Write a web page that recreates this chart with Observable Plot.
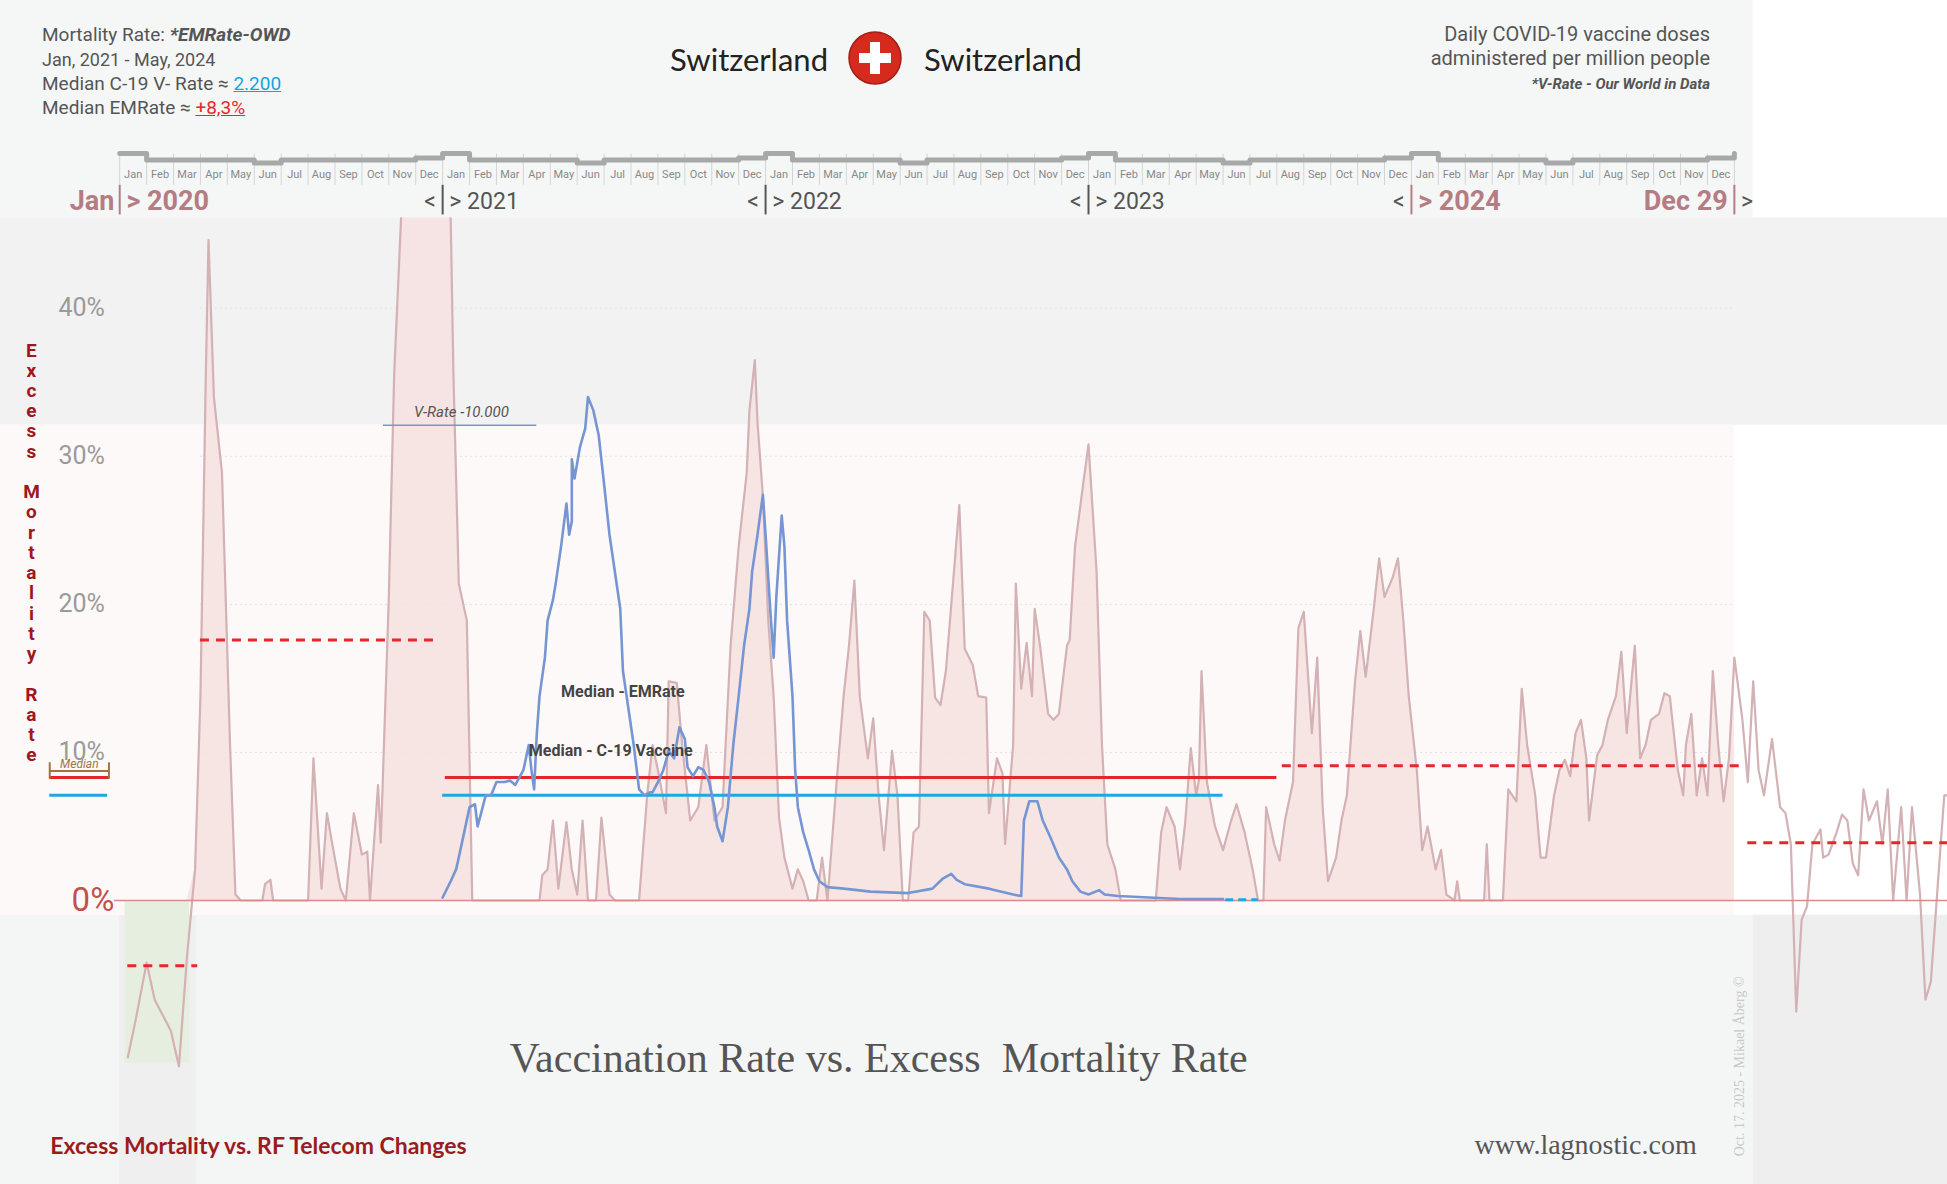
<!DOCTYPE html>
<html><head><meta charset="utf-8">
<script src="https://cdn.jsdelivr.net/npm/d3@7"></script>
<script src="https://cdn.jsdelivr.net/npm/@observablehq/plot@0.6"></script>
<style>
body{margin:0;background:#fff;font-family:"Liberation Sans Narrow","Roboto",sans-serif;}
#wrap{position:relative;width:1947px;height:1184px;overflow:hidden}
.t{position:absolute;white-space:nowrap;line-height:1;color:#555}
</style></head><body><div id="wrap"></div>
<script>
// months since Jan 2020, excess mortality %
const emMonth=[0.3,0.6,1.0,1.3,1.9,2.2,2.5,2.8,3.0,3.2,3.3,3.5,3.8,4.1,4.3,4.5,5.3,5.4,5.6,5.7,7.0,7.2,7.5,7.7,7.9,8.2,8.4,8.7,9.0,9.2,9.3,9.6,9.7,10.0,10.2,10.6,11.0,11.7,12.3,12.4,12.6,12.9,13.1,15.6,15.7,15.9,16.1,16.3,16.6,16.8,17.0,17.2,17.4,17.7,17.9,18.2,18.4,19.3,19.6,19.8,20.0,20.3,20.4,20.7,20.9,21.1,21.2,21.5,21.8,22.1,22.4,22.7,23.0,23.3,23.4,23.6,23.7,23.9,24.1,24.3,24.5,24.7,25.0,25.2,25.4,25.6,25.9,26.1,26.3,26.6,26.9,27.1,27.3,27.5,27.8,28.0,28.2,28.4,28.7,28.9,29.1,29.3,29.5,29.7,29.9,30.1,30.3,30.5,30.7,31.0,31.2,31.4,31.7,31.9,32.2,32.3,32.6,32.8,32.9,33.2,33.3,33.5,33.7,33.9,34.0,34.2,34.5,34.7,34.9,35.2,35.3,35.5,35.8,36.0,36.3,36.5,36.7,37.0,37.2,38.5,38.7,38.9,39.2,39.4,39.6,39.8,40.0,40.1,40.2,40.4,40.7,41.0,41.3,41.5,41.8,42.1,42.3,42.5,42.6,42.9,43.1,43.3,43.6,43.8,44.0,44.3,44.5,44.7,44.9,45.2,45.4,45.6,45.9,46.1,46.3,46.6,46.8,47.0,47.3,47.5,47.7,47.9,48.2,48.4,48.6,48.9,49.1,49.3,49.6,49.7,49.8,50.7,50.8,50.9,51.4,51.6,51.9,52.1,52.3,52.6,52.8,53.0,53.3,53.5,53.7,53.9,54.1,54.3,54.5,54.6,54.9,55.1,55.3,55.6,55.8,56.0,56.3,56.5,56.7,56.9,57.2,57.4,57.6,57.9,58.1,58.2,58.4,58.6,58.8,59.0,59.2,59.4,59.6,59.8,60.0,60.3,60.5,60.7,60.9,61.1,61.4,61.7,61.9,62.1,62.3,62.5,62.7,62.9,63.2,63.3,63.5,63.8,64.0,64.2,64.4,64.6,64.8,65.0,65.3,65.5,65.7,65.9,66.2,66.4,66.6,66.9,67.1,67.3,67.6,67.8,67.9];
const emValue=[-10.6,-8.0,-4.2,-6.7,-8.8,-11.2,-3.8,2.1,13.8,35.6,44.6,34.0,28.9,10.5,0.4,0,0,1.1,1.4,0,0,9.6,0.8,5.9,3.8,0.8,0,5.9,3.1,3.3,0,7.8,3.9,20.5,35.6,52,60,56,46,35.6,21.4,18.9,0,0,1.7,2.1,5.4,0.8,5.3,2.1,0.4,5.4,0,0,5.6,0.4,0,0,7.1,10.5,8.8,5.9,14.8,14.7,10.5,7.1,5.4,6.3,10.5,5.4,6.3,17.2,23.9,28.9,33.1,36.5,32.3,27.3,18.9,13.8,5.6,2.9,0.8,2.1,1.3,0,0,2.9,0,7.1,13.8,17.2,21.6,13.8,9.6,12.3,7.1,3.4,10.1,7.1,0,0,4.6,5.0,19.5,18.9,13.7,13.2,15.5,22.2,26.7,17.0,15.9,13.8,13.7,5.9,9.6,8.6,3.8,10.5,21.4,14.3,17.4,13.8,19.7,17.2,12.6,12.2,12.6,17.2,17.6,23.9,28.1,30.8,22.2,10.5,3.8,2.1,0,0,4.6,6.3,5.0,2.1,5.4,10.3,7.1,8.1,15.5,8.0,5.0,3.4,5.4,6.5,4.6,2.1,0,0,6.3,3.8,2.7,5.4,8.0,18.4,19.5,11.3,16.4,6.3,1.3,2.9,5.4,7.1,14.7,18.2,15.1,19.7,23.1,20.5,21.8,23.1,18.9,13.8,8.8,3.4,5.0,2.1,3.4,0.4,0,1.3,0,0,3.8,0,0,7.5,6.7,14.3,10.5,7.1,2.9,2.9,7.1,8.8,9.5,8.4,11.3,12.2,9.6,5.4,9.8,10.5,12.2,13.8,16.8,11.3,17.2,9.6,10.5,12.2,12.6,14.0,13.8,8.8,7.1,10.5,12.6,7.1,9.6,7.1,15.5,10.5,6.7,9.6,16.4,12.2,8.0,14.8,8.8,7.1,10.9,6.3,5.9,3.8,-7.5,-1.3,-0.4,3.8,4.8,2.9,3.1,4.6,5.8,5.4,2.5,1.7,7.5,5.4,6.7,3.8,7.5,0,6.3,0,6.3,0.4,-6.7,-5.5,2.1,7.1,7.1];
// vaccine doses per million / 10.000 shown on the same % axis
const vxMonth=[12.0,12.3,12.5,12.6,12.8,13.0,13.2,13.3,13.6,13.8,14.0,14.3,14.5,14.7,15.0,15.2,15.3,15.4,15.5,15.6,15.8,15.9,16.1,16.2,16.4,16.6,16.7,16.8,16.8,16.9,17.1,17.3,17.4,17.6,17.8,18.0,18.2,18.4,18.6,18.7,18.9,19.1,19.3,19.5,19.7,19.8,20.0,20.2,20.4,20.6,20.8,21.0,21.1,21.3,21.5,21.7,21.9,22.1,22.2,22.4,22.6,22.8,23.0,23.2,23.4,23.5,23.7,23.9,24.0,24.2,24.3,24.4,24.6,24.7,24.8,25.0,25.1,25.2,25.4,25.6,25.8,26.0,26.3,26.9,27.9,29.3,30.2,30.6,30.9,31.1,31.4,32.3,33.2,33.5,33.6,33.8,34.1,34.3,34.6,34.9,35.2,35.4,35.7,36.0,36.4,36.6,37.1,39.4,41.0];
const vxValue=[0.2,1.3,2.1,2.9,4.6,6.3,6.5,5.0,7.1,7.1,8.0,8.0,8.1,7.8,8.8,10.5,8.8,7.5,11.3,13.8,16.4,18.9,20.3,21.4,23.9,26.8,24.7,25.6,29.8,28.5,30.6,31.9,34.0,33.1,31.4,28.1,24.7,22.2,19.7,15.5,13.0,10.5,7.5,7.1,7.3,7.3,8.0,8.8,10.1,9.6,11.7,10.9,9.0,8.4,9.0,8.8,8.0,6.3,5.0,4.0,6.3,10.5,13.8,17.2,19.7,22.2,24.7,27.4,24.7,18.9,16.4,20.5,26.0,23.9,18.9,13.8,8.8,6.3,4.6,3.4,2.1,1.3,0.9,0.8,0.6,0.5,0.8,1.5,1.8,1.4,1.1,0.8,0.4,0.3,5.4,6.7,6.7,5.4,4.2,2.9,2.1,1.3,0.6,0.4,0.7,0.4,0.3,0.1,0.1];
const yTicks=[10,20,30,40];
const monthNames=["Jan","Feb","Mar","Apr","May","Jun","Jul","Aug","Sep","Oct","Nov","Dec"];
const years=[2020,2021,2022,2023,2024];
const boldYears=[2020,2024];
const plainYears=[2021,2022,2023];
const medEMRate=8.3, medVRate=2.2;
const medEM2020=17.6, medEMneg2020=-4.4, medEM2324=9.1, medEM2024=3.9;
const medVrateDisplay=7.1;

const em=emMonth.map((m,i)=>({m,v:emValue[i]}));
const vx=vxMonth.map((m,i)=>({m,v:vxValue[i]}));
const emFill=em.filter(d=>d.m>=2.5&&d.m<=60.0);
const months=d3.range(60).map(i=>({m:i+0.5,label:monthNames[i%12]}));
const seps=d3.range(61);
const rulerPattern=[50.15,50.0,50.0,50.0,50.0,49.8,50.0,50.0,50.0,50.0,50.0,50.15];
const ruler=[];d3.range(60).forEach(i=>{ruler.push({m:i,y:i%12==0?50.45:rulerPattern[i%12]});});ruler.push({m:60,y:50.45});
const letters="Excess Mortality Rate".split("");
const letterData=letters.map((c,i)=>({c,i})).filter(d=>d.c!==" ");

const F='"Liberation Sans Narrow",Roboto,sans-serif';
const pink="#b57c83";
const rect=(x1,x2,y1,y2,fill)=>Plot.rect([{x1,x2,y1,y2}],{x1:"x1",x2:"x2",y1:"y1",y2:"y2",fill});
const hline=(v,x1,x2,opts)=>Plot.ruleY([v],{x1,x2,...opts});

const chart=Plot.plot({
 width:1947,height:1184,margin:0,
 x:{domain:[-4.43,67.92],axis:null},
 y:{domain:[-19.18,60.78],axis:null},
 style:{fontFamily:F,background:"transparent"},
 marks:[
  rect(-4.43,67.92,-19.18,-1.0,"#f4f6f5"),
  rect(60.7,67.92,-19.18,-1.0,"#eeeeee"),
  rect(0,2.86,-19.18,-1.0,"#efefef"),
  rect(-4.43,67.92,32.1,46.1,"#f2f2f2"),
  rect(-4.43,60.0,-1.0,32.1,"#fdf9f9"),
  rect(0.2,2.6,-11,0,"#e6efdf"),
  Plot.ruleY(yTicks,{x1:3,x2:60,stroke:"#e4e0e0",strokeDasharray:"2,3"}),
  Plot.areaY(emFill,{x:"m",y1:0,y2:d=>Math.max(0,d.v),fill:"#f6e2e0",fillOpacity:0.85}),
  Plot.line(em,{x:"m",y:"v",stroke:"#d3b1b5",strokeWidth:2.2}),
  hline(0,-0.2,67.92,{stroke:"#d98a8a",strokeWidth:1.5}),
  hline(medEM2020,3.0,11.9,{stroke:"#e8262b",strokeWidth:3,strokeDasharray:"9,7"}),
  hline(medEMneg2020,0.3,2.9,{stroke:"#e8262b",strokeWidth:3,strokeDasharray:"9,7"}),
  hline(medEM2324,43.2,60.3,{stroke:"#e8262b",strokeWidth:3,strokeDasharray:"9,7"}),
  hline(medEM2024,60.5,67.92,{stroke:"#e8262b",strokeWidth:3,strokeDasharray:"9,7"}),
  hline(medEMRate,12.1,43.0,{stroke:"#e3262b",strokeWidth:3}),
  hline(medVrateDisplay,12.0,41.0,{stroke:"#1ca9e2",strokeWidth:3}),
  Plot.line(vx,{x:"m",y:"v",stroke:"#7596d2",strokeWidth:2.6}),
  hline(0.05,41.1,42.3,{stroke:"#1ca9e2",strokeWidth:3,strokeDasharray:"8,5"}),
  // legend
  hline(medEMRate,-2.6,-0.37,{stroke:"#e3262b",strokeWidth:3}),
  hline(medVrateDisplay,-2.6,-0.45,{stroke:"#1ca9e2",strokeWidth:3}),
  hline(8.75,-2.6,-0.4,{stroke:"#a07440",strokeWidth:2}),
  Plot.ruleX([-2.6,-0.4],{y1:8.2,y2:9.3,stroke:"#a07440",strokeWidth:2}),
  Plot.text(["Median"],{x:-1.5,y:9.2,fill:"#a07440",fontSize:12,fontStyle:"italic"}),
  // V-rate marker
  hline(32.1,9.8,15.5,{stroke:"#7596d2",strokeWidth:1.6}),
  Plot.text(["V-Rate -10.000"],{x:12.7,y:32.95,fill:"#555",fontSize:15,fontStyle:"italic"}),
  Plot.text(["Median - EMRate"],{x:16.4,y:14.1,textAnchor:"start",fill:"#444",fontSize:16,fontWeight:"bold"}),
  Plot.text(["Median - C-19 Vaccine"],{x:15.2,y:10.1,textAnchor:"start",fill:"#444",fontSize:16,fontWeight:"bold"}),
  // y labels
  Plot.text(yTicks,{x:-0.55,y:d=>d,text:d=>d+"%",textAnchor:"end",fill:"#9a9a9a",fontSize:25}),
  Plot.text([0],{x:-0.2,y:0,text:d=>d+"%",textAnchor:"end",fill:"#c4504b",fontSize:33}),
  Plot.text(letterData,{x:-3.28,y:d=>(725-(282+d.i*16.3))/11.925,text:"c",fill:"#a0161c",fontSize:19,fontWeight:"bold"}),
  // header background (covers clipped peak)
  rect(-4.43,60.7,46.1,60.78,"#f5f7f6"),
  Plot.ruleX(seps,{y1:48.3,y2:50.4,stroke:"#d4d4d4",strokeWidth:1}),
  Plot.line(ruler,{x:"m",y:"y",curve:"step-after",stroke:"#a8a8a8",strokeWidth:5}),
  Plot.text(months,{x:"m",y:49.0,text:"label",fill:"#888",fontSize:11}),
  Plot.ruleX(years.concat([2025]),{x:d=>(d-2020)*12,y1:46.3,y2:48.3,stroke:d=>(d==2020||d>=2024)?pink:"#555",strokeWidth:2}),
  Plot.text(["Jan"],{x:-0.2,y:47.2,textAnchor:"end",fill:pink,fontSize:27,fontWeight:"bold"}),
  Plot.text(boldYears,{x:d=>(d-2020)*12+0.25,y:47.2,text:d=>"> "+d,textAnchor:"start",fill:pink,fontSize:27,fontWeight:"bold"}),
  Plot.text(plainYears,{x:d=>(d-2020)*12+0.25,y:47.2,text:d=>"> "+d,textAnchor:"start",fill:"#555",fontSize:23}),
  Plot.text(years.slice(1),{x:d=>(d-2020)*12-0.25,y:47.2,text:d=>"<",textAnchor:"end",fill:"#555",fontSize:23}),
  Plot.text(["Dec 29"],{x:59.75,y:47.2,textAnchor:"end",fill:pink,fontSize:27,fontWeight:"bold"}),
  Plot.text([">"],{x:60.25,y:47.2,textAnchor:"start",fill:"#555",fontSize:23}),
  // bottom texts
  Plot.text(["Vaccination Rate vs. Excess  Mortality Rate"],{x:28.2,y:-10.7,fill:"#555",fontSize:42,fontFamily:"Liberation Serif, serif"}),
  Plot.text(["Excess Mortality vs. RF Telecom Changes"],{x:-2.58,y:-16.6,textAnchor:"start",fill:"#9b1b1f",fontSize:23,fontWeight:"bold",fontFamily:"Lato, sans-serif"}),
  Plot.text(["www.lagnostic.com"],{x:58.6,y:-16.5,textAnchor:"end",fill:"#555",fontSize:28,fontFamily:"Liberation Serif, serif"}),
  Plot.text(["Oct. 17. 2025 - Mikael Åberg ©"],{x:60.2,y:-11.2,rotate:-90,fill:"#c8c8c8",fontSize:14,fontFamily:"Liberation Serif, serif"})
 ]
});
const wrap=document.getElementById("wrap");
chart.style.position="absolute";chart.style.left="0";chart.style.top="0";
wrap.appendChild(chart);
function addText(html,x,y,size,extra){const d=document.createElement("div");d.className="t";d.innerHTML=html;d.style.left=x+"px";d.style.top=y+"px";d.style.fontSize=size+"px";Object.assign(d.style,extra||{});wrap.appendChild(d);return d;}
addText('Mortality Rate: <b><i>*EMRate-OWD</i></b>',42,25,19);
addText('Jan, 2021 - May, 2024',42,51,18);
addText('Median C-19 V- Rate ≈ <span style="color:#14a3e0;text-decoration:underline">'+medVRate.toFixed(3)+'</span>',42,74,19);
addText('Median EMRate ≈ <span style="color:#e8262b;text-decoration:underline">+'+String(medEMRate).replace(".",",")+'%</span>',42,98,19);
addText('Switzerland',0,44,31,{right:(1947-828)+"px",left:"auto",color:"#222",fontFamily:"Lato,sans-serif"});
addText('Switzerland',924,44,31,{color:"#222",fontFamily:"Lato,sans-serif"});
addText('Daily COVID-19 vaccine doses',0,24,20,{right:(1947-1710)+"px",left:"auto"});
addText('administered per million people',0,48,20,{right:(1947-1710)+"px",left:"auto"});
addText('<b><i>*V-Rate - Our World in Data</i></b>',0,77,15,{right:(1947-1710)+"px",left:"auto"});
const flag=document.createElement("div");
flag.innerHTML='<svg width="56" height="56" viewBox="0 0 56 56"><circle cx="28" cy="28" r="26" fill="#d52b1e" stroke="#a51d14" stroke-width="1.5"/><rect x="23" y="12" width="10" height="32" fill="#fff"/><rect x="12" y="23" width="32" height="10" fill="#fff"/></svg>';
flag.style.cssText="position:absolute;left:847px;top:30px";
wrap.appendChild(flag);
</script></body></html>
